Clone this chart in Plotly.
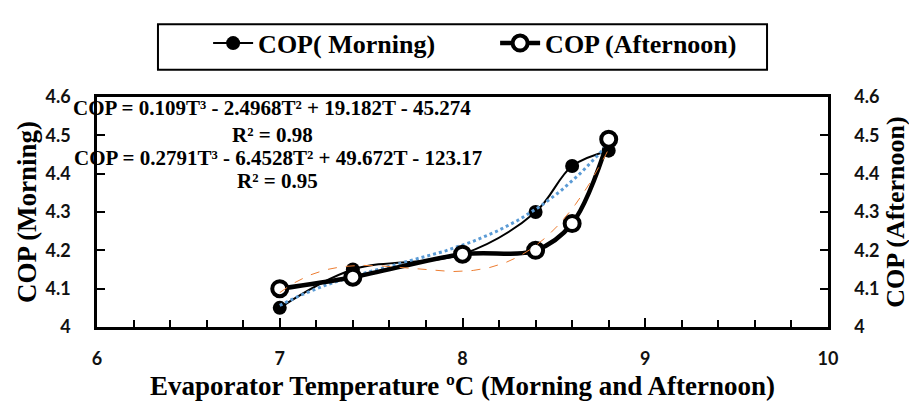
"""
COP vs evaporator temperature - Plotly
"""
import numpy as np
import plotly.graph_objects as go

# Données
temp = [7, 7.4, 8, 8.4, 8.6, 8.8]
cop_morning = [4.05, 4.15, 4.19, 4.30, 4.42, 4.46]
cop_afternoon = [4.10, 4.13, 4.19, 4.20, 4.27, 4.49]

eq_morning = "COP = 0.109T³ - 2.4968T² + 19.182T - 45.274"
r2_morning = "R² = 0.98"
eq_afternoon = "COP = 0.2791T³ - 6.4528T² + 49.672T - 123.17"
r2_afternoon = "R² = 0.95"

SERIF = "Liberation Serif"
SANS = "Lato"

# Courbes de tendance polynomiales (ordre 3), calculées depuis les données
t_fit = np.linspace(min(temp), max(temp), 120)
fit_m = np.polyval(np.polyfit(temp, cop_morning, 3), t_fit)
fit_a = np.polyval(np.polyfit(temp, cop_afternoon, 3), t_fit)

fig = go.Figure()

fig.add_trace(go.Scatter(
    x=temp, y=cop_morning,
    mode='lines+markers', name='COP( Morning)',
    line=dict(color='black', width=2, shape='spline'),
    marker=dict(color='black', size=14, symbol='circle'),
    yaxis='y'
))
fig.add_trace(go.Scatter(
    x=temp, y=cop_afternoon,
    mode='lines+markers', name='COP (Afternoon)',
    line=dict(color='black', width=4.5, shape='spline'),
    marker=dict(color='white', size=15, symbol='circle',
                line=dict(color='black', width=4)),
    yaxis='y2'
))

# Tendances
fig.add_trace(go.Scatter(
    x=t_fit, y=fit_m, mode='lines', showlegend=False,
    line=dict(color='#5B9BD5', width=3, dash='dot'),
    yaxis='y'
))
fig.add_trace(go.Scatter(
    x=t_fit, y=fit_a, mode='lines', showlegend=False,
    line=dict(color='#ED7D31', width=1, dash='dash'),
    yaxis='y2'
))

# Equations (étiquettes centrées, comme Excel)
for txt, x, y in [(eq_morning, 0.2394, 0.951), (r2_morning, 0.2394, 0.834),
                  (eq_afternoon, 0.2476, 0.736), (r2_afternoon, 0.2476, 0.635)]:
    fig.add_annotation(
        text=txt, x=x, y=y, xref='paper', yref='paper',
        xanchor='center', yanchor='middle', showarrow=False,
        font=dict(family=SERIF, size=21, color='black', weight='bold')
    )

# Cadre de la légende
fig.add_shape(type='rect', xref='paper', yref='paper',
              x0=0.0834, x1=0.9166, y0=1.118, y1=1.316,
              line=dict(color='black', width=2), fillcolor='white', layer='below')

tick_font = dict(family=SANS, size=18, color='#111', weight='bold')
title_font = dict(family=SERIF, size=27, color='black', weight='bold')

# la page ajoute une marge de 8 px : figure de 909x402
fig.update_layout(
    width=909, height=402,
    margin=dict(l=89, r=89, t=82, b=83),
    plot_bgcolor='rgba(0,0,0,0)', paper_bgcolor='white',
    legend=dict(
        orientation='h', x=0.152, xanchor='left', y=1.234, yanchor='middle',
        bgcolor='rgba(0,0,0,0)', borderwidth=0,
        font=dict(family=SERIF, size=26, color='black', weight='bold'),
        itemwidth=40, entrywidth=232
    ),
    xaxis=dict(
        range=[6, 10], dtick=1, tickfont=tick_font, automargin=False,
        showline=True, linecolor='black', linewidth=2.5, mirror=True,
        ticks='inside', ticklen=9, tickcolor='black', tickwidth=1.5,
        ticklabelstandoff=14,
        minor=dict(dtick=0.2, ticks='inside', ticklen=7, tickcolor='black', tickwidth=1.5),
        showgrid=False, zeroline=False,
        title=dict(text='Evaporator Temperature ºC (Morning and Afternoon)',
                   font=title_font, standoff=8)
    ),
    yaxis=dict(
        range=[4, 4.6], dtick=0.1, tickfont=tick_font, tickformat='.1~f',
        automargin=False,
        showline=True, linecolor='black', linewidth=2.5,
        ticks='inside', ticklen=8, tickcolor='black', tickwidth=1.5,
        ticklabelstandoff=20,
        showgrid=False, zeroline=False,
        title=dict(text='COP (Morning)', font=title_font, standoff=2)
    ),
    yaxis2=dict(
        range=[4, 4.6], dtick=0.1, tickfont=tick_font, tickformat='.1~f',
        overlaying='y', side='right', automargin=False,
        showline=True, linecolor='black', linewidth=2.5,
        ticks='inside', ticklen=8, tickcolor='black', tickwidth=1.5,
        ticklabelstandoff=20,
        showgrid=False, zeroline=False,
        title=dict(text='COP (Afternoon)', standoff=8,
                   font=dict(family=SERIF, size=26, color='black', weight='bold'))
    ),
)

fig.write_html("out.html")
